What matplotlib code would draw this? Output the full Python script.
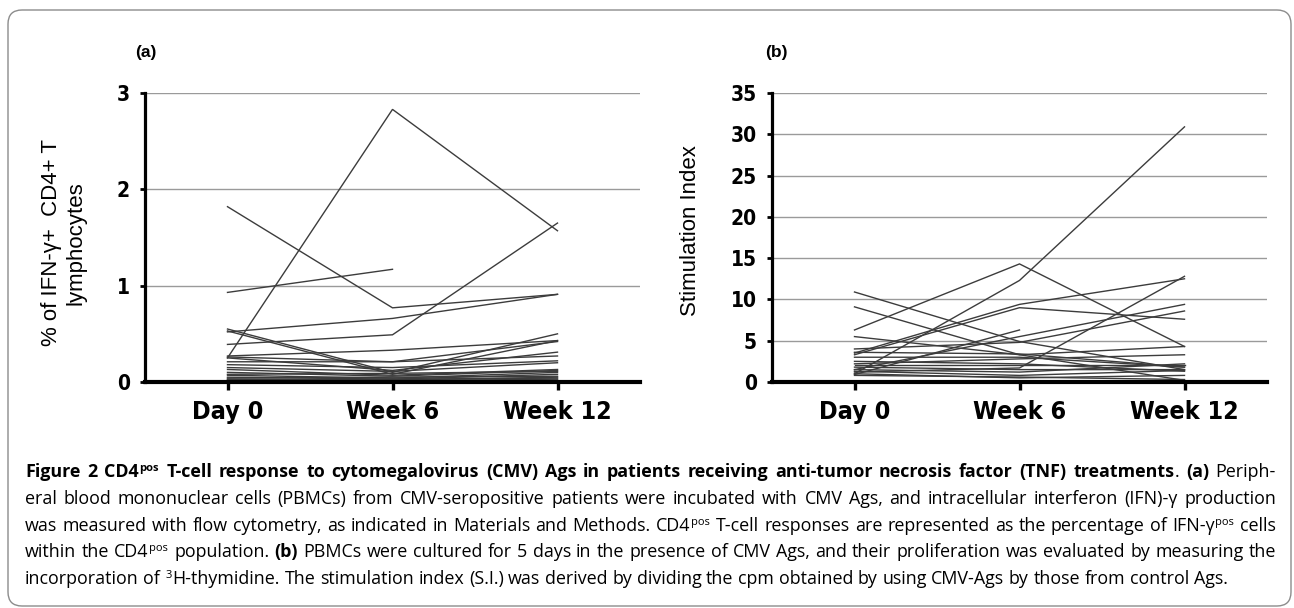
import numpy as np
import matplotlib
matplotlib.use('Agg')
import matplotlib.pyplot as plt
from matplotlib import font_manager
from matplotlib.patches import FancyBboxPatch
from matplotlib.transforms import IdentityTransform

W, H = 1294, 608

categories = ['Day 0', 'Week 6', 'Week 12']

# panel (a): % of IFN-g+ CD4+ T lymphocytes, one entry per patient
a_day0 = [0.25, 1.82, 0.93, 0.39, 0.52, 0.55, 0.53, 0.27, 0.26, 0.25, 0.21, 0.18,
          0.15, 0.13, 0.10, 0.08, 0.07, 0.05, 0.04, 0.03, 0.02, 0.02, 0.01]
a_week6 = [2.83, 0.77, 1.17, 0.49, 0.66, 0.10, 0.08, 0.33, 0.21, 0.12, 0.21, 0.15,
           0.11, 0.07, 0.06, 0.09, 0.04, 0.03, 0.05, 0.02, 0.03, 0.01, 0.02]
a_week12 = [1.57, 0.91, None, 1.65, 0.91, 0.50, 0.43, 0.43, 0.42, 0.31, 0.27, 0.22,
            0.20, 0.13, 0.12, 0.11, 0.10, 0.08, 0.06, 0.05, 0.04, 0.03, 0.02]

# panel (b): stimulation index
b_day0 = [1.0, 6.3, 10.9, 9.1, 3.5, 3.3, 1.5, 0.9, 5.5, 4.0, 1.2, 3.0, 2.2, 2.0,
          1.8, 1.5, 1.3, 1.0, 0.8, 2.5, 3.6]
b_week6 = [12.3, 14.3, 4.9, 3.3, 9.4, 9.0, 5.5, 6.3, 3.3, 4.8, 1.7, 3.0, 2.8, 2.0,
           1.5, 1.2, 0.8, 0.5, 0.6, 2.2, 3.4]
b_week12 = [30.9, 4.3, 1.5, 4.3, 12.5, 7.6, 9.4, None, 0.2, 8.6, 12.8, 1.8, 3.3, 2.0,
            1.5, 2.2, 1.4, 0.8, 0.3, 1.3, 1.8]

caption_lines = [
    "*Figure 2 CD4^pos^ T-cell response to cytomegalovirus (CMV) Ags in patients receiving "
    "anti-tumor necrosis factor (TNF) treatments*. *(a)* Periph-",
    "eral blood mononuclear cells (PBMCs) from CMV-seropositive patients were incubated with "
    "CMV Ags, and intracellular interferon (IFN)-γ production",
    "was measured with flow cytometry, as indicated in Materials and Methods. CD4^pos^ T-cell "
    "responses are represented as the percentage of IFN-γ^pos^ cells",
    "within the CD4^pos^ population. *(b)* PBMCs were cultured for 5 days in the presence of "
    "CMV Ags, and their proliferation was evaluated by measuring the",
    "incorporation of ^3^H-thymidine. The stimulation index (S.I.) was derived by dividing the "
    "cpm obtained by using CMV-Ags by those from control Ags.",
]
caption_baselines = [477, 504, 531, 557, 584]

# pick fonts from what is installed
_fonts = font_manager.fontManager.ttflist
_names = {f.name for f in _fonts}


def pick(cands):
    for c in cands:
        if c in _names:
            return c
    return 'DejaVu Sans'


if 'Liberation Sans Narrow' in _names:
    NARROW, NARROW_STRETCH = 'Liberation Sans Narrow', 'normal'
elif any(f.name == 'DejaVu Sans' and f.stretch == 'condensed' for f in _fonts):
    NARROW, NARROW_STRETCH = 'DejaVu Sans', 'condensed'
else:
    NARROW, NARROW_STRETCH = pick(['Roboto', 'Liberation Sans']), 'normal'
SANS = pick(['Liberation Sans', 'Arimo', 'Roboto'])
CAP_FONT = pick(['Open Sans', 'Noto Sans', 'Lato'])


def to_array(vals):
    return np.array([np.nan if v is None else v for v in vals], dtype=float)


def draw_panel(ax, cols, ymax, ystep):
    x = np.arange(len(categories))
    data = np.column_stack([to_array(c) for c in cols])
    for row in data:
        ax.plot(x, row, color='#3c3c3c', lw=1.0, solid_joinstyle='miter', zorder=3)
    ax.set_xlim(-0.5, 2.5)
    ax.set_ylim(0, ymax)
    ax.set_yticks(np.arange(0, ymax + ystep / 2, ystep))
    ax.set_xticks(x)
    ax.set_xticklabels(categories)
    ax.grid(axis='y', color='#9a9a9a', lw=1.0)
    ax.set_axisbelow(True)
    for s in ('top', 'right'):
        ax.spines[s].set_visible(False)
    ax.spines['left'].set_linewidth(2.3)
    ax.spines['bottom'].set_linewidth(3.0)
    ax.spines['left'].set_zorder(5)
    ax.spines['bottom'].set_zorder(5)
    ax.tick_params(axis='y', direction='out', length=3.8, width=2.0, pad=7)
    ax.tick_params(axis='x', direction='out', length=6, width=2.4, pad=7)
    for lbl in ax.get_yticklabels():
        lbl.set_fontfamily(NARROW)
        lbl.set_fontstretch(NARROW_STRETCH)
        lbl.set_fontweight('bold')
        lbl.set_fontsize(15)
    for lbl in ax.get_xticklabels():
        lbl.set_fontfamily(NARROW)
        lbl.set_fontstretch(NARROW_STRETCH)
        lbl.set_fontweight('bold')
        lbl.set_fontsize(18)


def parse_words(line):
    words, pieces, buf = [], [], ''
    bold = sup = False
    for ch in line + ' ':
        if ch in '*^ ':
            if buf:
                pieces.append((buf, bold, sup))
                buf = ''
            if ch == '*':
                bold = not bold
            elif ch == '^':
                sup = not sup
            elif pieces:
                words.append(pieces)
                pieces = []
        else:
            buf += ch
    return words


def piece_width(fig, renderer, text, size, bold):
    t = fig.text(0, 0, text, fontsize=size, family=[CAP_FONT, 'DejaVu Sans'],
                 fontweight='bold' if bold else 'normal')
    w = t.get_window_extent(renderer).width
    t.remove()
    return w


def draw_caption(fig):
    renderer = fig.canvas.get_renderer()
    x0, x1, last_end = 25, 1276, 1253
    parsed = [parse_words(l) for l in caption_lines]

    def measure(size):
        space = (piece_width(fig, renderer, 'a a', size, False)
                 - piece_width(fig, renderer, 'aa', size, False))
        out = []
        for words in parsed:
            ws = []
            for word in words:
                w = 0
                for text, bold, sup in word:
                    s = size * 0.62 if sup else size
                    w += piece_width(fig, renderer, text, s, bold) + (1.5 if sup else 0)
                ws.append(w)
            out.append(ws)
        return space, out

    size = 11.5
    space, widths = measure(size)
    nat_last = sum(widths[-1]) + space * (len(widths[-1]) - 1)
    size *= (last_end - x0) / nat_last
    space, widths = measure(size)
    natural = max(sum(ws) + space * (len(ws) - 1) for ws in widths[:-1])
    if natural > (x1 - x0) * 0.99:
        size *= (x1 - x0) * 0.99 / natural
        space, widths = measure(size)

    px = 100 / 72.0
    for i, (words, ws) in enumerate(zip(parsed, widths)):
        last = i == len(parsed) - 1
        gap = space if last else (x1 - x0 - sum(ws)) / (len(ws) - 1)
        x = x0
        base = caption_baselines[i]
        for word, ww in zip(words, ws):
            cx = x
            for text, bold, sup in word:
                s = size * 0.62 if sup else size
                y = base - (size * px * 0.36 if sup else 0)
                if sup:
                    cx += 0.8
                fig.text(cx / W, 1 - y / H, text, fontsize=s, family=[CAP_FONT, 'DejaVu Sans'],
                         fontweight='bold' if bold else 'normal', va='baseline', ha='left')
                cx += piece_width(fig, renderer, text, s, bold) + (0.7 if sup else 0)
            x += ww + gap


fig = plt.figure(figsize=(W / 100, H / 100), dpi=100)

ax_a = fig.add_axes([145 / W, 1 - 382 / H, 495 / W, 289 / H])
draw_panel(ax_a, [a_day0, a_week6, a_week12], 3, 1)
ax_b = fig.add_axes([772 / W, 1 - 382 / H, 495 / W, 289 / H])
draw_panel(ax_b, [b_day0, b_week6, b_week12], 35, 5)

fig.text(135 / W, 1 - 53 / H, '(a)', fontsize=12.5, family=[SANS, 'DejaVu Sans'],
         fontweight='bold', ha='left', va='center')
fig.text(765 / W, 1 - 53 / H, '(b)', fontsize=12.5, family=[SANS, 'DejaVu Sans'],
         fontweight='bold', ha='left', va='center')
fig.text(64 / W, 1 - 243 / H, '% of IFN-γ+  CD4+ T\nlymphocytes', fontsize=16,
         family=[SANS, 'DejaVu Sans'], rotation=90, ha='center', va='center',
         multialignment='center', linespacing=1.25)
fig.text(690 / W, 1 - 231 / H, 'Stimulation Index', fontsize=16, family=[SANS, 'DejaVu Sans'],
         rotation=90, ha='center', va='center')

border = FancyBboxPatch((8, H - 606), 1283, 596, boxstyle='round,pad=0,rounding_size=14',
                        transform=IdentityTransform(), fill=False, ec='#8c8c8c', lw=1.0)
fig.add_artist(border)

draw_caption(fig)

fig.savefig('out.png', dpi=100)
